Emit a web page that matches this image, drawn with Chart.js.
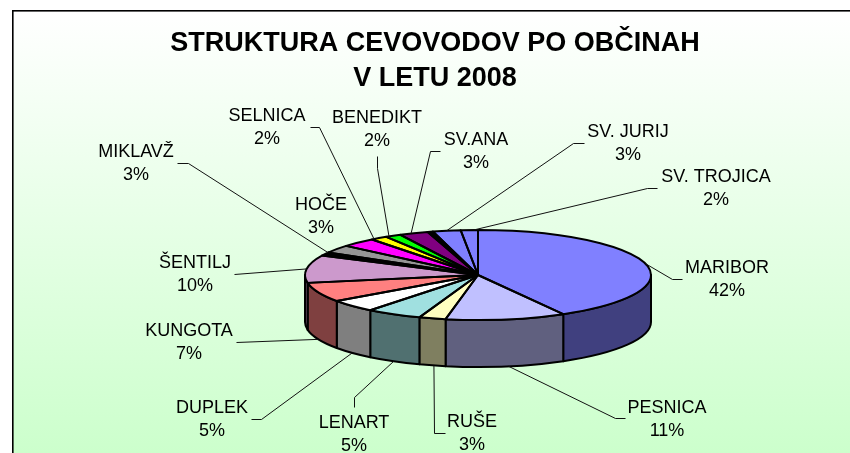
<!DOCTYPE html>
<html>
<head>
<meta charset="utf-8">
<style>html,body{margin:0;padding:0;background:#fff}canvas{display:block}</style>
<script src="https://cdn.jsdelivr.net/npm/chart.js@4"></script>
</head>
<body>
<canvas id="c" width="850" height="453"></canvas>
<script>
const titleLines = ["STRUKTURA CEVOVODOV PO OBČINAH", "V LETU 2008"];
const categories = ["MARIBOR","PESNICA","RUŠE","LENART","DUPLEK","KUNGOTA","ŠENTILJ","","MIKLAVŽ","HOČE","SELNICA","BENEDIKT","SV.ANA","","SV. JURIJ","SV. TROJICA"];
const values = [41.8,11.2,2.5,5.2,4.5,7.0,9.9,1.2,2.9,3.3,1.6,1.5,2.7,0.5,2.6,1.6];
const percentLabels = ["42%","11%","3%","5%","5%","7%","10%","","3%","3%","2%","2%","3%","","3%","2%"];
const colors = ["#8080FF","#C0C0FF","#FFFFC0","#A0E0E0","#FFFFFF","#FF8080","#CC99CC","#000000","#969696","#FF00FF","#FFFF00","#00FF00","#800080","#000000","#8080FF","#8080FF"];

// Text placement and leaders (page pixels): [centre x, name y, elbow points from the label inward, share of the slice the leader lands on]
const labelLayout = {
  "MARIBOR":[727,268,[[682,279],[672,279]],0.5],
  "PESNICA":[667,408,[[625,418],[615,418]],0.48],
  "RUŠE":[472,422,[[445,433],[434,433]],0.44],
  "LENART":[354,423,[[354,407],[354,397]],0.5],
  "DUPLEK":[212,408,[[251,419],[261,419]],0.5],
  "KUNGOTA":[189,331,[[236,342]],0.5],
  "ŠENTILJ":[195,263,[[234,274]],0.5],
  "HOČE":[321,205,null,0.5],
  "MIKLAVŽ":[136,152,[[177,163],[188,163]],0.0],
  "SELNICA":[267,116,[[310,127],[319,127]],0.15],
  "BENEDIKT":[377,118,[[377,156],[377,168]],0.2],
  "SV.ANA":[476,140,[[440,151],[430,151]],0.4],
  "SV. JURIJ":[628,132,[[584,143],[573,143]],0.5],
  "SV. TROJICA":[716,177,[[657,188],[647,188]],0.75]
};

const CX = 478, CY = 275, TILT = 45/173, DEPTH = 47, OUTLINE = 2;
const LABEL_FONT = '18px "Liberation Sans", Arial, sans-serif';

function shade(hex){
  const n = parseInt(hex.slice(1),16);
  return 'rgb('+((n>>16&255)>>1)+','+((n>>8&255)>>1)+','+((n&255)>>1)+')';
}
function arcsOf(chart){ return chart.getDatasetMeta(0).data; }
function toPie(ctx, a){
  ctx.translate(CX, CY);
  ctx.scale(1, TILT);
  ctx.translate(-a.x, -a.y);
}

const pie3d = {
  id:'pie3d',
  beforeDraw(chart){
    const {ctx,width,height} = chart;
    const g = ctx.createLinearGradient(0,11,0,height);
    g.addColorStop(0,'#FFFFFF');
    g.addColorStop(1,'#CCFFCC');
    ctx.save();
    ctx.fillStyle = g;
    ctx.fillRect(13,11,width-13,height-11);
    ctx.fillStyle = '#000';
    ctx.fillRect(12,10,width-12,1.6);
    ctx.fillRect(12,10,1.6,height-10);
    ctx.restore();
  },
  beforeDatasetsDraw(chart){
    const ctx = chart.ctx, arcs = arcsOf(chart);
    arcs.forEach((a,i)=>{
      const s = Math.max(a.startAngle,0), e = Math.min(a.endAngle,Math.PI);
      if (e <= s) return;
      const r = a.outerRadius, ry = r*TILT;
      ctx.save();
      ctx.beginPath();
      ctx.ellipse(CX,CY,r,ry,0,s,e,false);
      ctx.ellipse(CX,CY+DEPTH,r,ry,0,e,s,true);
      ctx.closePath();
      ctx.fillStyle = shade(colors[i]);
      ctx.fill();
      ctx.strokeStyle = '#000';
      ctx.lineWidth = OUTLINE;
      ctx.lineJoin = 'round';
      ctx.stroke();
      ctx.restore();
    });
    ctx.save();
    toPie(ctx, arcs[0]);
  },
  afterDatasetsDraw(chart){
    const ctx = chart.ctx, arcs = arcsOf(chart);
    ctx.restore();
    arcs.forEach(a=>{
      ctx.save();
      toPie(ctx,a);
      ctx.beginPath();
      ctx.moveTo(a.x,a.y);
      ctx.arc(a.x,a.y,a.outerRadius,a.startAngle,a.endAngle);
      ctx.closePath();
      ctx.restore();
      ctx.save();
      ctx.strokeStyle = '#000';
      ctx.lineWidth = OUTLINE;
      ctx.lineJoin = 'round';
      ctx.stroke();
      ctx.restore();
    });
    ctx.save();
    arcs.forEach((a,i)=>{
      const name = categories[i];
      if (!name) return;
      const [x,y,leader,share] = labelLayout[name];
      if (leader){
        const ang = a.startAngle + (a.endAngle-a.startAngle)*share;
        const r = a.outerRadius;
        const ax = CX + r*Math.cos(ang);
        let ay = CY + r*TILT*Math.sin(ang);
        if (Math.sin(ang) > 0) ay += DEPTH;
        ctx.beginPath();
        leader.forEach((p,j)=> j ? ctx.lineTo(p[0]+.5,p[1]+.5) : ctx.moveTo(p[0]+.5,p[1]+.5));
        ctx.lineTo(ax,ay);
        ctx.strokeStyle = '#111';
        ctx.lineWidth = 1;
        ctx.stroke();
      }
      ctx.font = LABEL_FONT;
      ctx.fillStyle = '#000';
      ctx.textAlign = 'center';
      ctx.textBaseline = 'middle';
      ctx.fillText(name,x,y);
      ctx.fillText(percentLabels[i],x,y+23);
    });
    ctx.restore();
  }
};

new Chart(document.getElementById('c'),{
  type:'pie',
  data:{labels:categories,datasets:[{data:values,backgroundColor:colors,borderWidth:0,radius:173}]},
  plugins:[pie3d],
  options:{
    responsive:false,
    animation:false,
    events:[],
    layout:{padding:{left:20,top:26}},
    plugins:{
      legend:{display:false},
      tooltip:{enabled:false},
      title:{display:true,text:titleLines,color:'#000',
        font:{family:'"Liberation Sans", Arial, sans-serif',size:27,weight:'bold',lineHeight:1.3},
        padding:0}
    }
  }
});
</script>
</body>
</html>
